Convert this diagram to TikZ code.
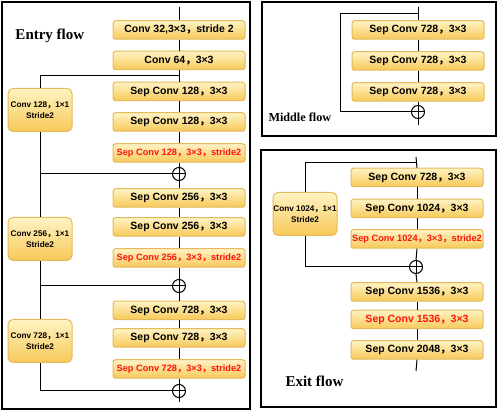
\documentclass[tikz,border=0pt]{standalone}
\usepackage{fontspec}
\setmainfont{Liberation Serif}
\setsansfont{Liberation Sans}
\newfontfamily\cjk{Noto Sans CJK SC}
\newcommand{\fwc}{{\cjk ，}}
\usetikzlibrary{calc}

\definecolor{boxtop}{RGB}{255,243,195}
\definecolor{boxbot}{RGB}{247,201,88}
\definecolor{boxline}{RGB}{228,186,92}
\definecolor{redtxt}{RGB}{250,20,20}

\tikzset{
	layer/.style={draw=boxline, rounded corners=2.5pt, top color=boxtop, bottom color=boxbot, minimum width=132pt, minimum height=18.5pt, inner sep=0pt, font=\sffamily\bfseries\fontsize{10.5}{12}\selectfont},
	redlayer/.style={layer, text=redtxt, font=\sffamily\bfseries\fontsize{9.2}{11}\selectfont},
	shortcut/.style={layer, rounded corners=5pt, minimum width=64pt, minimum height=43pt, align=center, font=\sffamily\bfseries\fontsize{8.2}{11}\selectfont},
	addop/.style={circle, draw, fill=white, minimum size=13pt, inner sep=0pt, path picture={\draw (path picture bounding box.north) -- (path picture bounding box.south) (path picture bounding box.west) -- (path picture bounding box.east);}},
	frame/.style={draw, line width=1.3pt},
	flowname/.style={anchor=west, inner sep=0pt, font=\bfseries\fontsize{15}{17}\selectfont}
}

\begin{document}
\begin{tikzpicture}[x=1pt, y=-1pt, line width=1pt]
	\useasboundingbox (0,0) rectangle (498,411);
	\begin{scope}
		\draw[frame] (2,2) rectangle (250,409);
		\draw[frame] (262,2) rectangle (496,136);
		\draw[frame] (261,150) rectangle (496,407);
	\end{scope}

	% entry flow
	\begin{scope}
		\node[flowname] (entry) at (15,36) {Entry flow};
		\node[layer] (e1) at (179,30) {Conv 32,3×3\fwc stride 2};
		\node[layer] (e2) at (179,60.5) {Conv 64\fwc 3×3};
		\node[layer] (e3) at (179,91.5) {Sep Conv 128\fwc 3×3};
		\node[layer] (e4) at (179,122) {Sep Conv 128\fwc 3×3};
		\node[redlayer] (e5) at (179,153) {Sep Conv 128\fwc 3×3\fwc stride2};
		\node[addop] (ea1) at (179,174) {};
		\node[layer] (e6) at (179,198) {Sep Conv 256\fwc 3×3};
		\node[layer] (e7) at (179,227) {Sep Conv 256\fwc 3×3};
		\node[redlayer] (e8) at (179,258) {Sep Conv 256\fwc 3×3\fwc stride2};
		\node[addop] (ea2) at (179,286) {};
		\node[layer] (e9) at (179,310.5) {Sep Conv 728\fwc 3×3};
		\node[layer] (e10) at (179,338) {Sep Conv 728\fwc 3×3};
		\node[redlayer] (e11) at (179,369) {Sep Conv 728\fwc 3×3\fwc stride2};
		\node[addop] (ea3) at (179,391) {};
		\node[shortcut] (es1) at (40,110) {Conv 128\fwc 1×1\\Stride2};
		\node[shortcut] (es2) at (40,239) {Conv 256\fwc 1×1\\Stride2};
		\node[shortcut] (es3) at (40,341) {Conv 728\fwc 1×1\\Stride2};
		\coordinate (ein) at (179,7);
		\coordinate (eout) at (179,402);
		\coordinate (ej1) at (179,76);

		\draw (ein) -- (e1.north);
		\draw (e1.south) -- (e2.north);
		\draw (e2.south) -- (e3.north);
		\draw (e3.south) -- (e4.north);
		\draw (e4.south) -- (e5.north);
		\draw (e5.south) -- (ea1.north);
		\draw (ea1.south) -- (e6.north);
		\draw (e6.south) -- (e7.north);
		\draw (e7.south) -- (e8.north);
		\draw (e8.south) -- (ea2.north);
		\draw (ea2.south) -- (e9.north);
		\draw (e9.south) -- (e10.north);
		\draw (e10.south) -- (e11.north);
		\draw (e11.south) -- (ea3.north);
		\draw (ea3.south) -- (eout);

		\draw (ej1) -| (es1.north);
		\draw (es1.south) -- (es2.north);
		\draw (es1.south |- ea1) -- (ea1.west);
		\draw (es2.south) -- (es3.north);
		\draw (es2.south |- ea2) -- (ea2.west);
		\draw (es3.south) |- (ea3.west);
	\end{scope}

	% middle flow
	\begin{scope}
		\node[flowname, font=\bfseries\fontsize{12.2}{14}\selectfont] (middle) at (268,117) {Middle flow};
		\node[layer] (m1) at (418,30) {Sep Conv 728\fwc 3×3};
		\node[layer] (m2) at (418,61) {Sep Conv 728\fwc 3×3};
		\node[layer] (m3) at (418,92) {Sep Conv 728\fwc 3×3};
		\node[addop] (ma) at (418,112) {};
		\coordinate (min) at (418,7);
		\coordinate (mout) at (418,125);
		\coordinate (mj) at (418,14);
		\coordinate (mloop) at (340,14);

		\draw (min) -- (m1.north);
		\draw (m1.south) -- (m2.north);
		\draw (m2.south) -- (m3.north);
		\draw (m3.south) -- (ma.north);
		\draw (ma.south) -- (mout);
		\draw (mj) -- (mloop) |- (ma.west);
	\end{scope}

	% exit flow
	\begin{scope}
		\node[flowname] (exit) at (285,381) {Exit flow};
		\node[layer] (x1) at (417,177.5) {Sep Conv 728\fwc 3×3};
		\node[layer] (x2) at (417,208.5) {Sep Conv 1024\fwc 3×3};
		\node[redlayer] (x3) at (417,239) {Sep Conv 1024\fwc 3×3\fwc stride2};
		\node[addop] (xa) at (416,267) {};
		\node[layer] (x4) at (417,292) {Sep Conv 1536\fwc 3×3};
		\node[redlayer, font=\sffamily\bfseries\fontsize{10.5}{12}\selectfont] (x5) at (417,319.5) {Sep Conv 1536\fwc 3×3};
		\node[layer] (x6) at (417,350) {Sep Conv 2048\fwc 3×3};
		\node[shortcut] (xs1) at (305,214) {Conv 1024\fwc 1×1\\Stride2};
		\coordinate (xin) at (416,157);
		\coordinate (xout) at (416,371);
		\coordinate (xj) at (416,163);

		\draw (xin) -- (x1.north);
		\draw (x1.south) -- (x2.north);
		\draw (x2.south) -- (x3.north);
		\draw (x3.south) -- (xa.north);
		\draw (xa.south) -- (x4.north);
		\draw (x4.south) -- (x5.north);
		\draw (x5.south) -- (x6.north);
		\draw (x6.south) -- (xout);
		\draw (xj) -| (xs1.north);
		\draw (xs1.south) |- (xa.west);
	\end{scope}
\end{tikzpicture}
\end{document}
